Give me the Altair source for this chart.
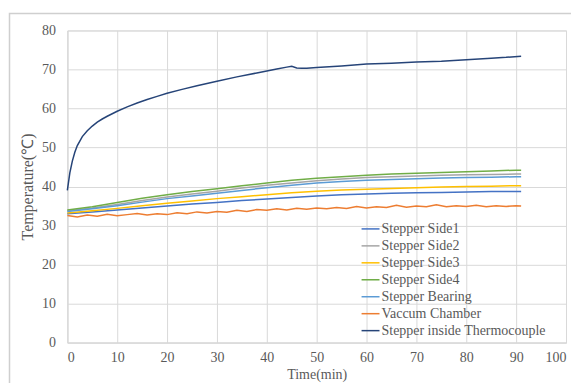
import altair as alt
import pandas as pd

# ---- data ----
series_names = ["Stepper Side1", "Stepper Side2", "Stepper Side3", "Stepper Side4",
                "Stepper Bearing", "Vaccum Chamber", "Stepper inside Thermocouple"]
series_colors = ["#4472C4", "#A5A5A5", "#FFC000", "#70AD47", "#5B9BD5", "#ED7D31", "#264478"]

t_slow = [0, 5, 10, 15, 20, 25, 30, 35, 40, 45, 50, 55, 60, 65, 70, 75, 80, 85, 90, 91]
side1 = [33.0, 33.5, 34.0, 34.5, 35.0, 35.5, 35.9, 36.4, 36.8, 37.2, 37.6, 37.9, 38.1, 38.3, 38.4, 38.5, 38.6, 38.7, 38.7, 38.7]
side2 = [33.8, 34.5, 35.4, 36.4, 37.3, 38.1, 38.8, 39.6, 40.3, 40.9, 41.5, 41.9, 42.3, 42.5, 42.7, 42.9, 43.0, 43.1, 43.2, 43.2]
side3 = [33.2, 33.8, 34.4, 35.1, 35.7, 36.3, 36.9, 37.4, 37.9, 38.4, 38.8, 39.1, 39.3, 39.5, 39.7, 39.9, 40.0, 40.1, 40.2, 40.2]
side4 = [34.0, 34.8, 35.9, 37.0, 37.9, 38.7, 39.4, 40.2, 40.9, 41.6, 42.1, 42.5, 42.9, 43.2, 43.4, 43.6, 43.8, 44.0, 44.2, 44.2]
bearing = [33.6, 34.3, 35.1, 36.0, 36.9, 37.6, 38.3, 39.0, 39.7, 40.3, 40.9, 41.3, 41.6, 41.8, 42.0, 42.2, 42.3, 42.4, 42.5, 42.5]

t_vac = [0, 2, 4, 6, 8, 10, 12, 14, 16, 18, 20, 22, 24, 26, 28, 30, 32, 34, 36, 38, 40, 42, 44, 46,
         48, 50, 52, 54, 56, 58, 60, 62, 64, 66, 68, 70, 72, 74, 76, 78, 80, 82, 84, 86, 88, 90, 91]
vacuum = [32.6, 32.2, 32.7, 32.4, 32.9, 32.5, 32.8, 33.1, 32.7, 33.0, 32.8, 33.3, 33.0, 33.5, 33.2, 33.6,
          33.4, 33.9, 33.6, 34.1, 33.9, 34.3, 34.0, 34.4, 34.2, 34.5, 34.3, 34.6, 34.4, 34.9, 34.5, 34.8,
          34.6, 35.2, 34.7, 35.0, 34.8, 35.3, 34.8, 35.1, 34.9, 35.2, 34.8, 35.1, 34.9, 35.1, 35.0]

t_tc = [0, 0.5, 1, 1.5, 2, 3, 4, 5, 6, 7, 8, 10, 12, 14, 16, 18, 20, 23, 26, 30, 34, 38, 42, 44, 45,
        46, 47, 48, 50, 55, 60, 65, 70, 75, 80, 85, 88, 91]
thermo = [39.0, 43.5, 46.5, 48.8, 50.5, 52.8, 54.3, 55.5, 56.5, 57.3, 58.0, 59.3, 60.4, 61.4, 62.3, 63.1,
          63.9, 64.9, 65.8, 67.0, 68.1, 69.1, 70.1, 70.6, 70.8, 70.4, 70.3, 70.3, 70.5, 70.9, 71.4, 71.6,
          71.9, 72.1, 72.5, 72.9, 73.1, 73.4]

x_ticks = [0, 10, 20, 30, 40, 50, 60, 70, 80, 90, 100]
y_ticks = [0, 10, 20, 30, 40, 50, 60, 70, 80]

rows = []
for name, ts, vs in [(series_names[0], t_slow, side1), (series_names[1], t_slow, side2),
                     (series_names[2], t_slow, side3), (series_names[3], t_slow, side4),
                     (series_names[4], t_slow, bearing), (series_names[5], t_vac, vacuum),
                     (series_names[6], t_tc, thermo)]:
    for t, v in zip(ts, vs):
        rows.append({"series": name, "t": t, "v": v})
df = pd.DataFrame(rows)

FONT = "Liberation Serif"
TXT = "#595959"
W, H = 500, 313

color = alt.Color("series:N", scale=alt.Scale(domain=series_names, range=series_colors),
                  sort=series_names,
                  legend=alt.Legend(title=None, orient="none", legendX=294, legendY=189,
                                    symbolType="stroke", symbolSize=324, symbolStrokeWidth=1.5,
                                    labelFont=FONT, labelFontSize=14, labelColor=TXT, labelLimit=400,
                                    rowPadding=-2, labelOffset=1, padding=0))

lines = alt.Chart(df).mark_line(strokeWidth=1.5).encode(
    x=alt.X("t:Q", scale=alt.Scale(domain=[0, 100], nice=False),
            axis=alt.Axis(values=x_ticks, title="Time(min)", titlePadding=3, labelPadding=8)),
    y=alt.Y("v:Q", scale=alt.Scale(domain=[0, 80], nice=False),
            axis=alt.Axis(values=y_ticks, title="Temperature(℃)", labelPadding=12, titlePadding=6,
                          titleFontSize=16)),
    color=color,
    detail="series:N",
    order=alt.Order("t:Q"),
    strokeWidth=alt.condition(alt.datum.series == series_names[6], alt.value(2.8), alt.value(1.5)),
)

# chart-area border (Excel style frame), placed in pixels relative to the plot area
frame_src = pd.DataFrame({"a": [0]})
frame = alt.Chart(frame_src).mark_rect(stroke="#CFCFCF", strokeWidth=1.5, fillOpacity=0,
                                       clip=False).encode(
    x=alt.value(-58), x2=alt.value(W + 30), y=alt.value(-17), y2=alt.value(H + 80))

chart = alt.layer(lines, frame).properties(
    width=W, height=H,
    autosize=alt.AutoSizeParams(type="none"),
    padding={"left": 59.5, "top": 22, "right": 5, "bottom": 40},
    background="white",
).configure_axis(
    labelFont=FONT, labelFontSize=14, labelColor=TXT,
    titleFont=FONT, titleFontSize=14, titleColor=TXT, titleFontWeight="normal",
    grid=True, gridColor="#D9D9D9", gridWidth=1,
    domainColor="#D9D9D9", ticks=False,
).configure_view(stroke="#D9D9D9")

chart.save("out.html", embed_options={"renderer": "svg", "actions": False})
